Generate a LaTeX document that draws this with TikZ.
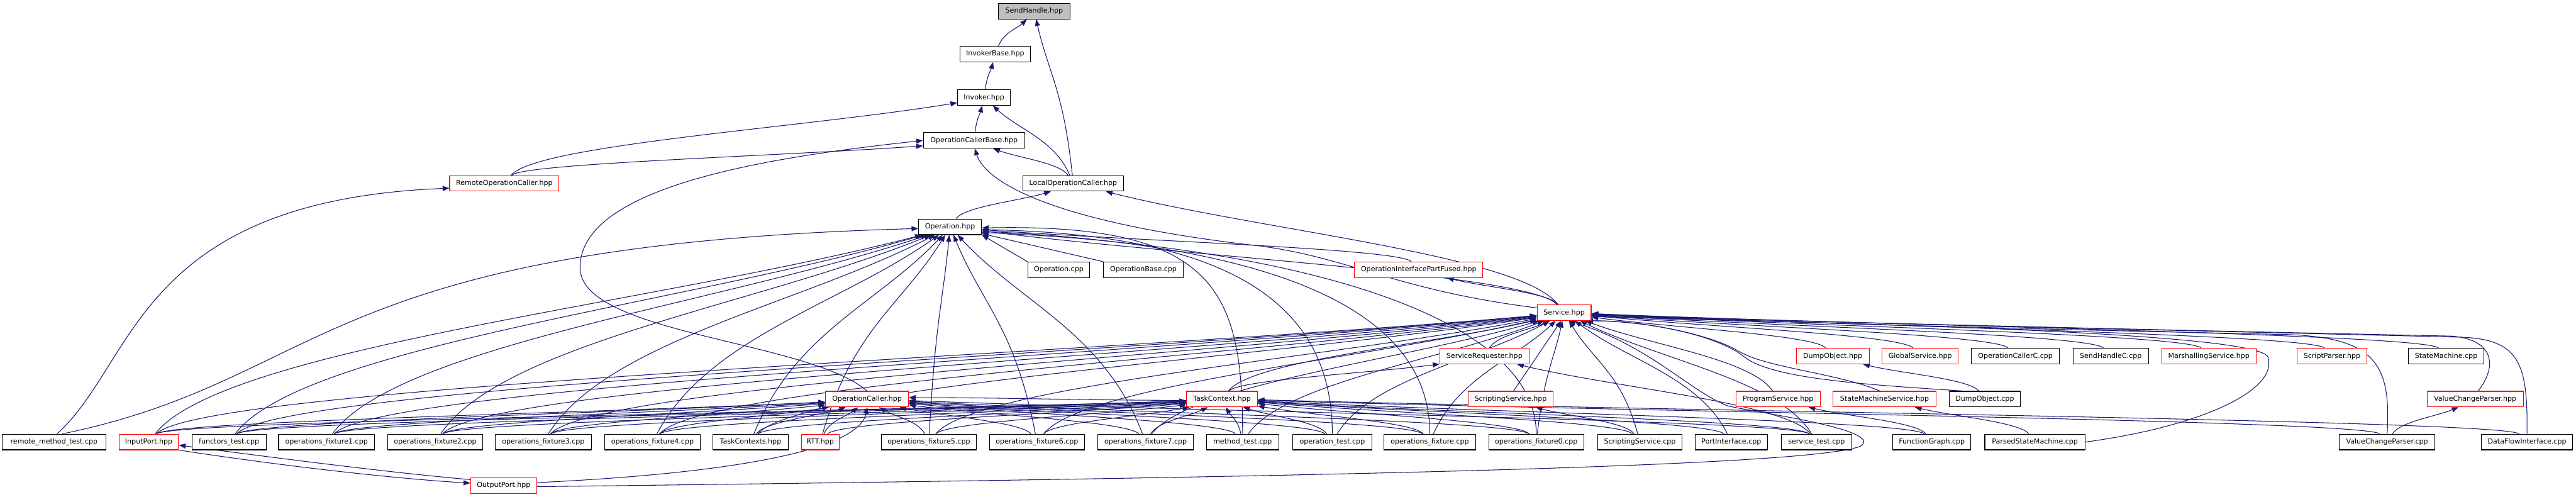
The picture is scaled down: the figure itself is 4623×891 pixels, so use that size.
\documentclass[tikz,border=0pt]{standalone}
\usepackage{fontspec}
\setmainfont{DejaVu Sans}
\usetikzlibrary{arrows.meta,backgrounds,calc}
\definecolor{edgec}{RGB}{25,25,112}
\newcommand\ed[2]{\path[edge] let \p3=(#1), \p4=(#2),
  \n1={int(atan2(\y3-\y4,\x3-\x4))},
  \n2={int((atan2(\y4-\y3,\x4-\x3)+90)/2)},
  \p1=(#1.\n2), \p2=(#2.\n1), \n5={0.55*(\y2-\y1)} in
  (\p1) .. controls ({\x1+\n5*cos(\n2)},{\y1+\n5*sin(\n2)}) and ({\x2+0.35*(\x1-\x2)},{\y2+0.35*(\y1-\y2)}) .. (\p2);}
\begin{document}
\begin{tikzpicture}[x=1pt,y=-1pt,
  box/.style={draw=black,fill=white,line width=1.2pt,minimum height=28pt,inner sep=0pt,font=\fontsize{12.5}{15}\selectfont},
  rbox/.style={box,draw=red},
  gbox/.style={box,fill=black!25},
  edge/.style={draw=edgec,line width=1.2pt,-{Triangle[length=12pt,width=9pt]}}]
\useasboundingbox (0,0) rectangle (4623,891);
% nodes
\node[gbox,minimum width=128pt] (sh) at (1856,20) {SendHandle.hpp};
\node[box,minimum width=127pt] (ib) at (1786,97) {InvokerBase.hpp};
\node[box,minimum width=95pt] (inv) at (1766,175) {Invoker.hpp};
\node[box,minimum width=182pt] (ocb) at (1748,252) {OperationCallerBase.hpp};
\node[box,minimum width=180pt] (loc) at (1926,329) {LocalOperationCaller.hpp};
\node[rbox,minimum width=196pt] (roc) at (905,329) {RemoteOperationCaller.hpp};
\node[box,minimum width=113pt] (op) at (1705,407) {Operation.hpp};
\node[box,minimum width=111pt] (opcpp) at (1900,484) {Operation.cpp};
\node[box,minimum width=143pt] (opbase) at (2052,484) {OperationBase.cpp};
\node[rbox,minimum width=230pt] (oipf) at (2546,484) {OperationInterfacePartFused.hpp};
\node[rbox,minimum width=97pt] (svc) at (2807,561) {Service.hpp};
% row 639
\node[rbox,minimum width=160pt] (sreq) at (2664,639) {ServiceRequester.hpp};
\node[rbox,minimum width=131pt] (dumph) at (3289,639) {DumpObject.hpp};
\node[rbox,minimum width=136pt] (glob) at (3446,639) {GlobalService.hpp};
\node[box,minimum width=158pt] (occ) at (3617,639) {OperationCallerC.cpp};
\node[box,minimum width=135pt] (shc) at (3788,639) {SendHandleC.cpp};
\node[rbox,minimum width=169pt] (mars) at (3964,639) {MarshallingService.hpp};
\node[rbox,minimum width=126pt] (spar) at (4185,639) {ScriptParser.hpp};
\node[box,minimum width=136pt] (smcpp) at (4390,639) {StateMachine.cpp};
% row 716
\node[rbox,minimum width=149pt] (oc) at (1556,716) {OperationCaller.hpp};
\node[rbox,minimum width=127pt] (tc) at (2193,716) {TaskContext.hpp};
\node[rbox,minimum width=153pt] (ssh) at (2711,716) {ScriptingService.hpp};
\node[rbox,minimum width=151pt] (prog) at (3191,716) {ProgramService.hpp};
\node[rbox,minimum width=185pt] (sms) at (3382,716) {StateMachineService.hpp};
\node[box,minimum width=128pt] (dumpc) at (3562,716) {DumpObject.cpp};
\node[rbox,minimum width=173pt] (vcph) at (4442,716) {ValueChangeParser.hpp};
% bottom row
\node[box,minimum width=186pt] (rmt) at (97,793) {remote\_method\_test.cpp};
\node[rbox,minimum width=107pt] (inp) at (267,793) {InputPort.hpp};
\node[box,minimum width=133pt] (fun) at (411,793) {functors\_test.cpp};
\node[box,minimum width=172pt] (fxa) at (586,793) {operations\_fixture1.cpp};
\node[box,minimum width=171pt] (fxb) at (781,793) {operations\_fixture2.cpp};
\node[box,minimum width=172pt] (fxc) at (975,793) {operations\_fixture3.cpp};
\node[box,minimum width=171pt] (fxd) at (1171,793) {operations\_fixture4.cpp};
\node[box,minimum width=135pt] (tcs) at (1347,793) {TaskContexts.hpp};
\node[rbox,minimum width=68pt] (rtt) at (1472,793) {RTT.hpp};
\node[box,minimum width=171pt] (fxe) at (1667,793) {operations\_fixture5.cpp};
\node[box,minimum width=171pt] (fxf) at (1861,793) {operations\_fixture6.cpp};
\node[box,minimum width=171pt] (fxg) at (2056,793) {operations\_fixture7.cpp};
\node[box,minimum width=130pt] (mt) at (2230,793) {method\_test.cpp};
\node[box,minimum width=143pt] (ot) at (2391,793) {operation\_test.cpp};
\node[box,minimum width=164pt] (fx) at (2566,793) {operations\_fixture.cpp};
\node[box,minimum width=170pt] (fxz) at (2757,793) {operations\_fixture0.cpp};
\node[box,minimum width=151pt] (sscpp) at (2943,793) {ScriptingService.cpp};
\node[box,minimum width=130pt] (pi) at (3107,793) {PortInterface.cpp};
\node[box,minimum width=126pt] (st) at (3260,793) {service\_test.cpp};
\node[box,minimum width=140pt] (fg) at (3467,793) {FunctionGraph.cpp};
\node[box,minimum width=180pt] (psm) at (3652,793) {ParsedStateMachine.cpp};
\node[box,minimum width=172pt] (vcpc) at (4284,793) {ValueChangeParser.cpp};
\node[box,minimum width=163pt] (dfi) at (4535,793) {DataFlowInterface.cpp};
\node[rbox,minimum width=119pt] (outp) at (904,871) {OutputPort.hpp};
\draw[edge] (opcpp.north west) -- (op.south east);
\draw[edge] (opbase.north west) -- (op.-12);
\begin{scope}[on background layer]
\fill[white] (0,0) rectangle (4623,891);
% top chain
\ed{ib}{sh}
\ed{loc}{sh}
\ed{inv}{ib}
\ed{ocb}{inv}
\ed{loc}{inv}
\ed{roc}{inv}
\ed{loc}{ocb}
\ed{roc}{ocb}
\ed{op}{loc}
\ed{svc}{loc}
\ed{oipf}{op}
\ed{svc}{op}
\ed{svc}{oipf}
\draw[edge] (svc.170) .. controls (2500,520) and (2420,460) .. (2250,440) .. controls (1900,400) and (1770,330) .. (ocb.-85);
\draw[edge] (oc.north) .. controls (1450,610) and (1041,600) .. (1041,480) .. controls (1041,330) and (1400,280) .. (ocb.west);
\draw[edge] (rmt.70) .. controls (245,650) and (245,360) .. (roc.185);
\draw[edge] (rmt.45) .. controls (590,680) and (560,440) .. (op.183);
% into Operation
\ed{inp}{op}
\ed{fun}{op}
\ed{fxa}{op}
\ed{fxb}{op}
\ed{fxc}{op}
\ed{fxd}{op}
\ed{tcs}{op}
\ed{rtt}{op}
\ed{fxe}{op}
\ed{fxf}{op}
\ed{fxg}{op}
\draw[edge] (mt.north) .. controls (2230,520) and (2180,400) .. (op.-2);
\draw[edge] (ot.north) .. controls (2391,540) and (2200,420) .. (op.-5);
\draw[edge] (fx.north) .. controls (2566,560) and (2300,440) .. (op.-8);
\draw[edge] (fxz.north) .. controls (2757,560) and (2300,440) .. (op.-10);
% into Service
\ed{sreq}{svc}
\ed{dumph}{svc}
\ed{glob}{svc}
\ed{occ}{svc}
\ed{shc}{svc}
\ed{mars}{svc}
\ed{spar}{svc}
\ed{smcpp}{svc}
\ed{prog}{svc}
\ed{tc}{svc}
\ed{inp}{svc}
\ed{fun}{svc}
\ed{fxa}{svc}
\ed{fxb}{svc}
\ed{fxc}{svc}
\ed{fxd}{svc}
\ed{fxe}{svc}
\ed{fxf}{svc}
\ed{fxg}{svc}
\ed{tcs}{svc}
\ed{mt}{svc}
\ed{ot}{svc}
\ed{fx}{svc}
\ed{fxz}{svc}
\ed{sscpp}{svc}
\ed{pi}{svc}
\ed{st}{svc}
\draw[edge] (ssh.70) -- (svc.250);
\draw[edge] (dumpc.160) .. controls (3350,690) and (3180,680) .. (3130,640) .. controls (3080,600) and (2950,575) .. (svc.-20);
\draw[edge] (sms.120) .. controls (3300,670) and (3170,660) .. (3120,630) .. controls (3070,600) and (2950,575) .. (svc.-22);
\draw[edge] (psm.east) .. controls (3950,765) and (4090,700) .. (4070,640) .. controls (4045,595) and (3300,580) .. (svc.-8);
\draw[edge] (vcpc.north) .. controls (4292,650) and (4260,605) .. (4100,600) .. controls (3600,590) and (3100,575) .. (svc.-5);
\draw[edge] (dfi.north) .. controls (4537,650) and (4520,610) .. (4420,605) .. controls (3800,590) and (3100,575) .. (svc.-3);
\draw[edge] (vcph.70) .. controls (4480,660) and (4480,610) .. (4400,603) .. controls (3800,590) and (3100,575) .. (svc.-2);
\draw[edge] (outp.-2) .. controls (2200,858) and (3250,840) .. (3340,800) .. controls (3380,770) and (3150,740) .. (3100,728) .. controls (3030,700) and (2960,620) .. (svc.-60);
% into OperationCaller
\ed{inp}{oc}
\ed{fun}{oc}
\ed{fxa}{oc}
\ed{fxb}{oc}
\ed{fxc}{oc}
\ed{fxd}{oc}
\ed{tcs}{oc}
\ed{rtt}{oc}
\ed{fxe}{oc}
\ed{fxf}{oc}
\ed{fxg}{oc}
\ed{mt}{oc}
\ed{ot}{oc}
\ed{fx}{oc}
\ed{fxz}{oc}
\ed{st}{oc}
\draw[edge] (tc.182) to[out=180,in=0] (oc.2);
\draw[edge] (outp.5) .. controls (1300,850) and (1540,810) .. (oc.-88);
% into TaskContext
\ed{inp}{tc}
\ed{fun}{tc}
\ed{fxa}{tc}
\ed{fxb}{tc}
\ed{fxc}{tc}
\ed{fxd}{tc}
\ed{tcs}{tc}
\ed{rtt}{tc}
\ed{fxe}{tc}
\ed{fxf}{tc}
\ed{fxg}{tc}
\ed{mt}{tc}
\ed{ot}{tc}
\ed{fx}{tc}
\ed{fxz}{tc}
\ed{sscpp}{tc}
\ed{pi}{tc}
\ed{st}{tc}
\ed{fg}{tc}
\ed{vcpc}{tc}
\ed{dfi}{tc}
% others
\ed{sscpp}{ssh}
\ed{fg}{prog}
\ed{psm}{sms}
\ed{dumpc}{dumph}
\ed{vcpc}{vcph}
\ed{st}{sreq}
\ed{tc}{sreq}
\draw[edge] (inp.-15) .. controls (500,835) and (700,858) .. (outp.176);
\draw[edge] (outp.170) .. controls (700,848) and (500,822) .. (inp.-6);
\end{scope}
\end{tikzpicture}
\end{document}
